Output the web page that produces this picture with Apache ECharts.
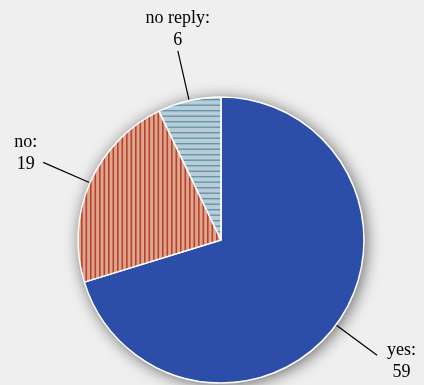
<!DOCTYPE html>
<html>
<head>
<meta charset="utf-8">
<script src="https://cdn.jsdelivr.net/npm/echarts@6/dist/echarts.min.js"></script>
<style>
html,body{margin:0;padding:0;background:#efefef;}
#chart{width:424px;height:385px;}
</style>
</head>
<body>
<div id="chart"></div>
<script>
// ---- data ----
const categories = ['yes', 'no', 'no reply'];
const values = [59, 19, 6];

// ---- styling helpers ----
function stripePattern(bg, fg, vertical, period, thick) {
  const c = document.createElement('canvas');
  const n = 2; // two stripes per tile to allow fractional period
  const size = Math.round(period * n);
  c.width = vertical ? size : 4;
  c.height = vertical ? 4 : size;
  const ctx = c.getContext('2d');
  ctx.fillStyle = bg;
  ctx.fillRect(0, 0, c.width, c.height);
  ctx.fillStyle = fg;
  for (let i = 0; i < n; i++) {
    const p = i * period;
    if (vertical) ctx.fillRect(p, 0, thick, c.height);
    else ctx.fillRect(0, p, c.width, thick);
  }
  return { image: c, repeat: 'repeat' };
}

const fills = [
  '#2c4ea8',
  stripePattern('#dca68f', '#b9402d', true, 4.5, 1.6),
  stripePattern('#b9cdd7', '#6495aa', false, 5.5, 1.4)
];
const labelAlign = [null, null, { align: 'center', verticalAlign: 'bottom' }];
const labelPad = [[12, 0, 0, 0], [0, 0, 18, 0], [0, 0, 0, 0]];
const labelDist = [10, 6, 0];

const total = values.reduce((a, b) => a + b, 0);

const chart = echarts.init(document.getElementById('chart'), null, { renderer: 'canvas' });
chart.setOption({
  backgroundColor: '#efefef',
  animation: false,
  series: [
    {
      // shadow disc under the pie
      type: 'pie',
      silent: true,
      center: [221, 240],
      radius: 143,
      startAngle: 90,
      label: { show: false },
      labelLine: { show: false },
      itemStyle: {
        color: '#efefef',
        shadowBlur: 16,
        shadowColor: 'rgba(0,0,0,0.6)',
        shadowOffsetX: 2,
        shadowOffsetY: 2
      },
      data: [{ value: total, name: '' }]
    },
    {
      type: 'pie',
      center: [221, 240],
      radius: 143,
      startAngle: 90,
      clockwise: true,
      avoidLabelOverlap: false,
      itemStyle: { borderColor: '#ffffff', borderWidth: 1.5 },
      label: {
        show: true,
        position: 'outside',
        formatter: '{c|{b}:}\n{c|{c}}',
        color: '#000',
        fontFamily: '"Liberation Serif", "Times New Roman", serif',
        fontSize: 18,
        lineHeight: 22,
        rich: {
          c: {
            align: 'center',
            fontFamily: '"Liberation Serif", "Times New Roman", serif',
            fontSize: 18,
            lineHeight: 22,
            color: '#000'
          }
        }
      },
      labelLine: {
        show: true,
        length: 51,
        length2: 0,
        lineStyle: { color: '#000', width: 1.2 }
      },
      labelLayout: function (p) {
        const a = labelAlign[p.dataIndex];
        return a ? { align: a.align, verticalAlign: a.verticalAlign } : {};
      },
      emphasis: { disabled: true },
      data: categories.map((name, i) => ({
        name: name,
        value: values[i],
        itemStyle: { color: fills[i] },
        label: { padding: labelPad[i], distanceToLabelLine: labelDist[i] }
      }))
    }
  ]
});
</script>
</body>
</html>
